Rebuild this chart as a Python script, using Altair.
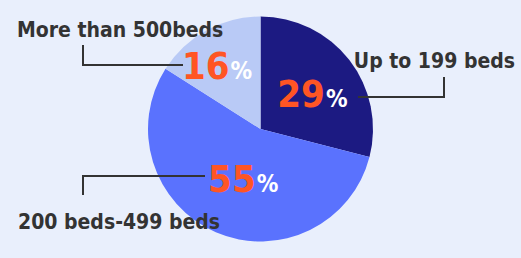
import altair as alt
import pandas as pd

# Hospital size shares
categories = ["Up to 199 beds", "200 beds-499 beds", "More than 500beds"]
shares = [29, 55, 16]
slice_colors = ["#1c1a82", "#5a72fe", "#b9caf6"]

BG = "#e9effc"
INK = "#333333"
ORANGE = "#ff5524"
FONT = "DejaVu Sans Condensed, DejaVu Sans"

df = pd.DataFrame({"category": categories, "value": shares, "idx": range(len(categories))})

W, H = 521, 258
R = 112.5
theta_scale = alt.Scale(domain=[0, 100])

base = alt.Chart(df)

pie = base.mark_arc(radius=R).encode(
    theta=alt.Theta("value:Q", stack=True, scale=theta_scale),
    color=alt.Color("category:N", scale=alt.Scale(domain=categories, range=slice_colors), legend=None),
    order=alt.Order("idx:Q"),
)

# Percentage labels sit at each slice's mid-angle, nudged by dx/dy
label_place = {
    "Up to 199 beds": (60, 17, 15),
    "200 beds-499 beds": (60, 19, 8),
    "More than 500beds": (60, -2, 3),
}

pct_layers = []
for cat, (r, dx, dy) in label_place.items():
    src = (
        base.transform_window(cum="sum(value)", sort=[alt.SortField("idx")])
        .transform_calculate(mid="datum.cum - datum.value / 2", num="format(datum.value, 'd')")
        .transform_filter(alt.datum.category == cat)
    )
    enc = dict(theta=alt.Theta("mid:Q", stack=False, scale=theta_scale))
    pct_layers.append(
        src.mark_text(radius=r, dx=dx, dy=dy, align="right", baseline="alphabetic",
                      font=FONT, fontSize=38, fontWeight="bold", color=ORANGE)
        .encode(text="num:N", **enc)
    )
    pct_layers.append(
        src.mark_text(radius=r, dx=dx + 1, dy=dy, align="left", baseline="alphabetic",
                      font=FONT, fontSize=24, fontWeight="bold", color="white")
        .encode(text=alt.value("%"), **enc)
    )

blank = alt.Chart(alt.Data(values=[{}]))

# Category names and their leader lines
names = [
    ("More than 500beds", 17, 37, "left"),
    ("Up to 199 beds", 515, 68, "right"),
    ("200 beds-499 beds", 18, 229, "left"),
]
name_layers = [
    blank.mark_text(align=a, baseline="alphabetic", font=FONT, fontSize=21,
                    fontWeight="bold", color=INK)
    .encode(x=alt.value(x), y=alt.value(y), text=alt.value(t))
    for t, x, y, a in names
]

leaders = [
    (83, 46, 83, 65), (83, 65, 182, 65),
    (359, 97, 444, 97), (444, 78, 444, 97),
    (83, 176, 204, 176), (83, 176, 83, 194),
]
leader_layers = [
    blank.mark_rule(color=INK, strokeWidth=2, strokeCap="square")
    .encode(x=alt.value(x1), y=alt.value(y1), x2=alt.value(x2), y2=alt.value(y2))
    for x1, y1, x2, y2 in leaders
]

chart = (
    alt.layer(pie, *leader_layers, *pct_layers, *name_layers)
    .properties(width=W, height=H, padding=0, autosize=alt.AutoSizeParams(type="none"))
    .configure(background=BG)
    .configure_view(stroke=None)
)

chart.save("out.html", embed_options={"renderer": "svg", "actions": False})
